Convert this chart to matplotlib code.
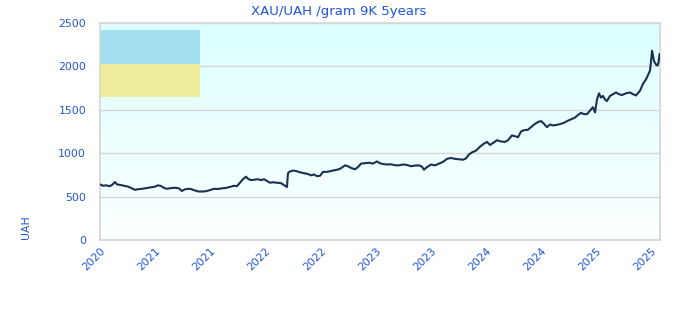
import matplotlib.pyplot as plt
import numpy as np

# price of 9K gold, UAH per gram
years = [2020.860, 2020.887, 2020.914, 2020.951, 2020.978, 2020.996, 2021.014, 2021.041,
         2021.078, 2021.114, 2021.141, 2021.177, 2021.205, 2021.241, 2021.277, 2021.313,
         2021.359, 2021.386, 2021.413, 2021.440, 2021.467, 2021.504, 2021.540, 2021.576,
         2021.603, 2021.631, 2021.676, 2021.712, 2021.748, 2021.785, 2021.821, 2021.857,
         2021.894, 2021.930, 2021.966, 2022.002, 2022.039, 2022.075, 2022.102, 2022.129,
         2022.156, 2022.184, 2022.202, 2022.229, 2022.265, 2022.292, 2022.320, 2022.347,
         2022.374, 2022.401, 2022.428, 2022.465, 2022.501, 2022.537, 2022.555, 2022.564,
         2022.583, 2022.610, 2022.637, 2022.673, 2022.709, 2022.746, 2022.773, 2022.800,
         2022.827, 2022.855, 2022.882, 2022.918, 2022.954, 2022.991, 2023.027, 2023.054,
         2023.081, 2023.108, 2023.136, 2023.172, 2023.199, 2023.226, 2023.262, 2023.299,
         2023.335, 2023.371, 2023.398, 2023.426, 2023.462, 2023.498, 2023.534, 2023.571,
         2023.607, 2023.643, 2023.680, 2023.716, 2023.752, 2023.779, 2023.797, 2023.825,
         2023.861, 2023.897, 2023.933, 2023.970, 2024.006, 2024.042, 2024.078, 2024.115,
         2024.151, 2024.178, 2024.205, 2024.233, 2024.269, 2024.305, 2024.341, 2024.369,
         2024.396, 2024.432, 2024.459, 2024.495, 2024.532, 2024.559, 2024.595, 2024.622,
         2024.650, 2024.677, 2024.704, 2024.740, 2024.767, 2024.795, 2024.831, 2024.858,
         2024.885, 2024.912, 2024.940, 2024.967, 2024.994, 2025.030, 2025.066, 2025.103,
         2025.139, 2025.166, 2025.193, 2025.221, 2025.248, 2025.275, 2025.302, 2025.329,
         2025.348, 2025.366, 2025.384, 2025.402, 2025.420, 2025.438, 2025.456, 2025.484,
         2025.511, 2025.538, 2025.565, 2025.592, 2025.629, 2025.665, 2025.692, 2025.719,
         2025.756, 2025.783, 2025.810, 2025.828, 2025.846, 2025.855, 2025.865, 2025.874,
         2025.883, 2025.901, 2025.915, 2025.924, 2025.933]
prices = [640, 625, 630, 620, 645, 668, 640, 635,
          625, 615, 600, 578, 585, 590, 598, 605,
          615, 630, 622, 600, 590, 598, 602, 595,
          565, 585, 590, 575, 560, 558, 562, 575,
          590, 588, 595, 600, 612, 625, 620, 660,
          700, 730, 705, 690, 695, 700, 690, 700,
          680, 660, 665, 660, 655, 625, 610, 770,
          790, 800, 795, 780, 770, 760, 745, 755,
          735, 740, 785, 785, 795, 805, 815, 835,
          860, 850, 830, 815, 840, 880, 885, 890,
          880, 905, 885, 875, 870, 872, 862, 860,
          870, 865, 850, 858, 860, 845, 810, 840,
          870, 860, 880, 900, 935, 945, 935, 930,
          925, 940, 985, 1010, 1030, 1075, 1110, 1130,
          1095, 1125, 1150, 1135, 1130, 1150, 1205, 1195,
          1185, 1250, 1265, 1270, 1300, 1330, 1360, 1370,
          1340, 1300, 1330, 1320, 1325, 1335, 1350, 1375,
          1395, 1410, 1440, 1465, 1450, 1450, 1490, 1530,
          1470, 1620, 1690, 1640, 1660, 1620, 1600, 1660,
          1680, 1700, 1680, 1670, 1690, 1700, 1680, 1665,
          1720, 1800, 1850, 1900, 1950, 2050, 2180, 2120,
          2060, 2020, 2010, 2050, 2140]

tick_pos = [2020.86, 2021.36, 2021.86, 2022.36, 2022.86, 2023.36,
            2023.86, 2024.36, 2024.86, 2025.36, 2025.86]
tick_labels = ['2020', '2021', '2021', '2022', '2022', '2023',
               '2023', '2024', '2024', '2025', '2025']
y_ticks = [0, 500, 1000, 1500, 2000, 2500]

txt_color = '#1f55d8'
line_color = '#1b2f52'
edge_color = '#d6d6d6'

fig = plt.figure(figsize=(6.8, 3.2), dpi=100)
ax = fig.add_axes([100 / 680, 80 / 320, 560 / 680, 217 / 320])

x0, x1 = 2020.86, 2025.937
ax.set_xlim(x0, x1)
ax.set_ylim(0, 2500)

# background gradient: light cyan on top fading to white
grad = np.linspace(1, 0, 256).reshape(-1, 1)
top = np.array([220, 255, 255]) / 255
bot = np.array([252, 255, 255]) / 255
img = bot + (top - bot) * grad[..., None]
ax.imshow(img, extent=[x0, x1, 0, 2500], aspect='auto', zorder=0)

# flag box
ax.fill_between([x0, x0 + 100 / 110.3], 2031, 2419, color='#a2dff0', zorder=1, lw=0)
ax.fill_between([x0, x0 + 100 / 110.3], 1651, 2031, color='#eeed9b', zorder=1, lw=0)

ax.grid(axis='y', color=edge_color, lw=1, zorder=1)
ax.set_axisbelow(True)

ax.plot(years, prices, color=line_color, lw=1.5, zorder=3)

ax.set_yticks(y_ticks)
ax.set_xticks(tick_pos)
ax.set_xticklabels(tick_labels, rotation=45, ha='right', rotation_mode='anchor')
ax.tick_params(length=0, labelsize=7.8, colors=txt_color)
ax.tick_params(axis='x', pad=4)
ax.tick_params(axis='y', pad=10)

for s in ax.spines.values():
    s.set_color(edge_color)
    s.set_linewidth(1.2)

fig.text(339 / 680, 1 - 11 / 320, 'XAU/UAH /gram 9K 5years', color=txt_color,
         fontsize=9.5, ha='center', va='center')
fig.text(26 / 680, 1 - 227 / 320, 'UAH', color=txt_color, fontsize=7.8,
         rotation=90, ha='center', va='center')

fig.savefig('out.png', dpi=100)
